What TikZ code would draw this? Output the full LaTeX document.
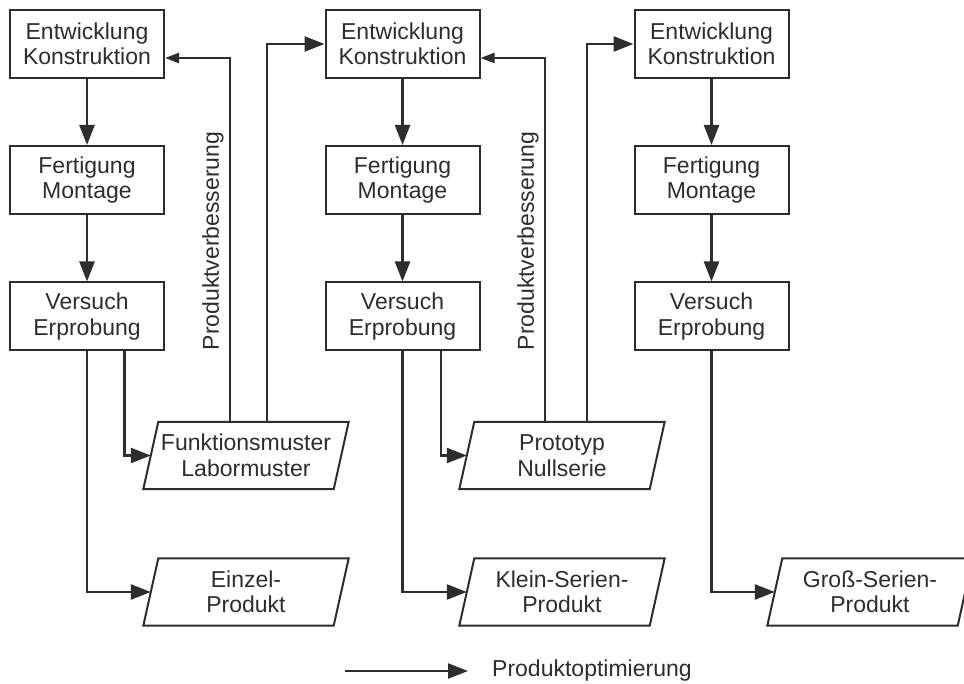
\documentclass[tikz,border=0pt]{standalone}
\usepackage{fontspec}
\setmainfont{Liberation Sans}
\usetikzlibrary{arrows.meta,calc}
\definecolor{ink}{RGB}{45,45,45}
\tikzset{
  boxline/.style={draw=ink, line width=2pt, line join=miter},
  stepbox/.style={boxline, rectangle, minimum width=154pt, minimum height=68pt, inner sep=0pt, align=center, text=ink},
  ptext/.style={rectangle, minimum width=190pt, minimum height=67pt, inner sep=0pt, align=center, text=ink},
  conn/.style={draw=ink, line width=2.4pt},
  bigtip/.style={-{Triangle[length=20pt,width=15pt]}},
  smalltip/.style={-{Triangle[length=14pt,width=10pt]}},
  vlabel/.style={rotate=90, text=ink, inner sep=0pt}
}
\newcommand\paranode[4]{%
  \node[ptext] (#1) at (#2,#3) {#4};
  \draw[boxline] ($(#1.north west)+(7.5,0)$) -- ($(#1.north east)+(7.5,0)$) -- ($(#1.south east)+(-7.5,0)$) -- ($(#1.south west)+(-7.5,0)$) -- cycle;}
\begin{document}
\begin{tikzpicture}[x=1pt,y=-1pt,font=\fontsize{23}{25.5}\selectfont]
\useasboundingbox (0,0) rectangle (964,684);
\clip (0,0) rectangle (964,684);
% column boxes
\node[stepbox] (b11) at (87,44) {Entwicklung\\Konstruktion};
\node[stepbox] (b12) at (87,180) {Fertigung\\Montage};
\node[stepbox] (b13) at (87,316.5) {Versuch\\Erprobung};
\node[stepbox] (b21) at (402.5,44) {Entwicklung\\Konstruktion};
\node[stepbox] (b22) at (402.5,180) {Fertigung\\Montage};
\node[stepbox] (b23) at (402.5,316.5) {Versuch\\Erprobung};
\node[stepbox] (b31) at (711.5,44) {Entwicklung\\Konstruktion};
\node[stepbox] (b32) at (711.5,180) {Fertigung\\Montage};
\node[stepbox] (b33) at (711.5,316.5) {Versuch\\Erprobung};
% parallelograms
\paranode{fm}{246}{455.5}{Funktionsmuster\\Labormuster}
\paranode{pn}{562}{455.5}{Prototyp\\Nullserie}
\paranode{ep}{246}{592}{Einzel-\\Produkt}
\paranode{kp}{562}{592}{Klein-Serien-\\Produkt}
\paranode{gp}{870}{592}{Groß-Serien-\\Produkt}
% vertical flow
\draw[conn,bigtip] (b11) -- (b12);
\draw[conn,bigtip] (b12) -- (b13);
\draw[conn,bigtip] (b21) -- (b22);
\draw[conn,bigtip] (b22) -- (b23);
\draw[conn,bigtip] (b31) -- (b32);
\draw[conn,bigtip] (b32) -- (b33);
% outputs
\draw[conn,bigtip] (b13.south) |- (ep.west);
\draw[conn,bigtip] ([xshift=37.5pt]b13.south) |- (fm.west);
\draw[conn,bigtip] (b23.south) |- (kp.west);
\draw[conn,bigtip] ([xshift=38.5pt]b23.south) |- (pn.west);
\draw[conn,bigtip] (b33.south) |- (gp.west);
% feedback / next stage
\draw[conn,smalltip] ([xshift=-16pt]fm.north) |- ([yshift=-14pt]b11.east);
\draw[conn,bigtip] ([xshift=21pt]fm.north) |- (b21.west);
\draw[conn,smalltip] ([xshift=-17pt]pn.north) |- ([yshift=-14pt]b21.east);
\draw[conn,bigtip] ([xshift=25pt]pn.north) |- (b31.west);
% labels
\node[vlabel] (t1) at (213,241) {Produktverbesserung};
\node[vlabel] (t2) at (528,241) {Produktverbesserung};
% legend
\coordinate (la) at (345,671);
\coordinate (lb) at (468,671);
\draw[conn,bigtip] (la) -- (lb);
\node[anchor=base west, text=ink, inner sep=0pt] (lt) at (492,676) {Produktoptimierung};
\end{tikzpicture}
\end{document}
